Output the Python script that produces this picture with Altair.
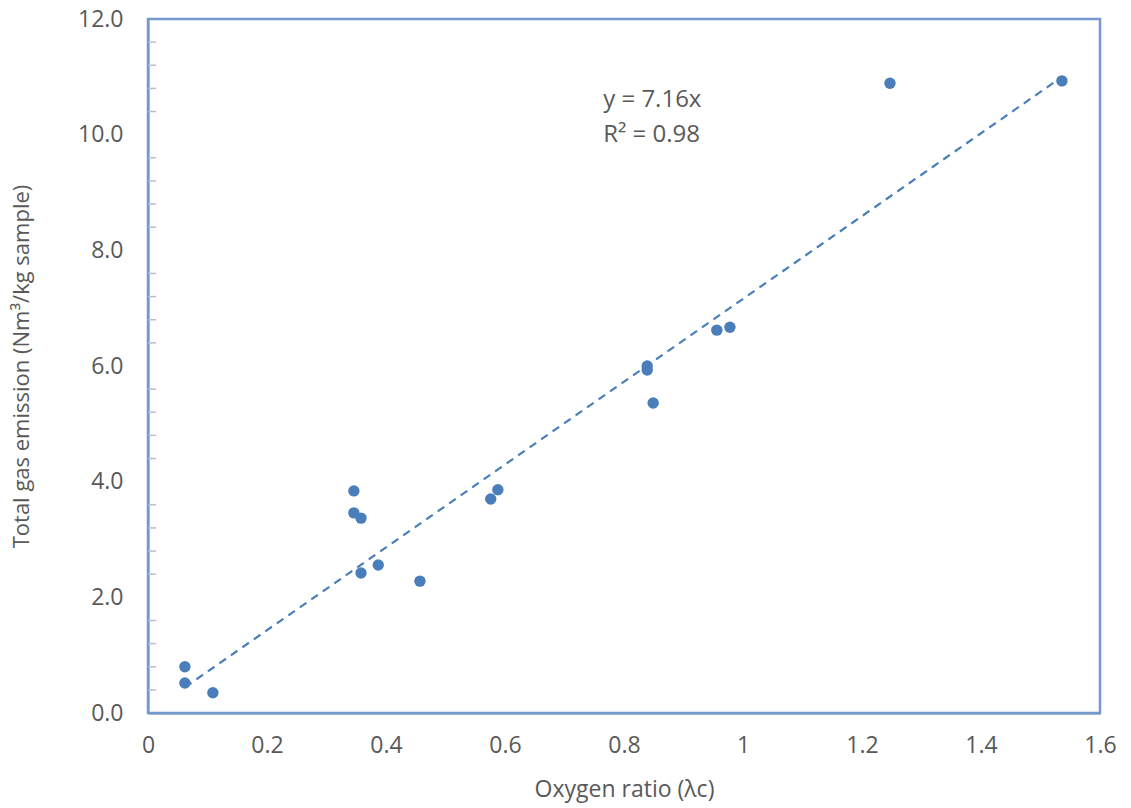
import altair as alt
import pandas as pd

x_vals = [0.062, 0.062, 0.109, 0.346, 0.346, 0.358, 0.358, 0.387, 0.457, 0.576, 0.588,
          0.839, 0.839, 0.849, 0.956, 0.978, 1.247, 1.536]
y_vals = [0.80, 0.52, 0.35, 3.84, 3.46, 3.37, 2.42, 2.56, 2.28, 3.70, 3.86,
          6.00, 5.93, 5.36, 6.62, 6.67, 10.89, 10.93]
slope = 7.16
trend_x = [0.062, 1.536]
eq_lines = ["y = 7.16x", "R² = 0.98"]

pts = pd.DataFrame({"x": x_vals, "y": y_vals})
trend = pd.DataFrame({"x": trend_x, "y": [slope * v for v in trend_x]})

FONT = "Open Sans"
GRAY = "#595959"
BLUE = "#4a7ebb"

xs = alt.Scale(domain=[0, 1.6], nice=False, zero=False)
ys = alt.Scale(domain=[0, 12], nice=False, zero=False)

xaxis = alt.Axis(values=[0, 0.2, 0.4, 0.6, 0.8, 1.0, 1.2, 1.4, 1.6], format="~f",
                 title="Oxygen ratio (λc)", grid=False, ticks=False, labelFlush=False,
                 domainColor="#b4bfcf", domainWidth=3,
                 labelFont=FONT, labelFontSize=23, labelColor=GRAY, labelPadding=21,
                 titleFont=FONT, titleFontSize=23, titleFontWeight="normal",
                 titleColor=GRAY, titlePadding=21)
yaxis = alt.Axis(values=[0, 2, 4, 6, 8, 10, 12], format=".1f",
                 title="Total gas emission (Nm³/kg sample)", grid=False, ticks=False,
                 labelFlush=False,
                 domainColor="#b4bfcf", domainWidth=3,
                 labelFont=FONT, labelFontSize=23, labelColor=GRAY, labelPadding=25,
                 titleFont=FONT, titleFontSize=22, titleFontWeight="normal",
                 titleColor=GRAY, titlePadding=44)

minor = pd.DataFrame({"y": [v * 0.4 for v in range(1, 30) if v % 5 != 0]})
minor_ticks = alt.Chart(minor).mark_rule(color="#b4bfcf", strokeWidth=1.5).encode(
    y=alt.Y("y:Q", scale=ys, axis=yaxis),
    x=alt.value(0), x2=alt.value(8))

points = alt.Chart(pts).mark_circle(size=130, color=BLUE, opacity=1).encode(
    x=alt.X("x:Q", scale=xs, axis=xaxis),
    y=alt.Y("y:Q", scale=ys, axis=yaxis))

line = alt.Chart(trend).mark_line(color=BLUE, strokeWidth=2.2, strokeDash=[8, 6]).encode(
    x=alt.X("x:Q", scale=xs), y=alt.Y("y:Q", scale=ys))

txt = pd.DataFrame({"x": [0.765, 0.765], "y": [10.6, 10.0], "t": eq_lines})
labels = alt.Chart(txt).mark_text(align="left", baseline="middle", font=FONT,
                                   fontSize=24, color=GRAY).encode(
    x=alt.X("x:Q", scale=xs), y=alt.Y("y:Q", scale=ys), text="t:N")

frame = alt.Chart(pd.DataFrame({"a": [0]})).mark_rect(
    fill=None, stroke="#7399cf", strokeWidth=2.5).encode(
    x=alt.value(0), x2=alt.value(952), y=alt.value(0), y2=alt.value(694))

chart = alt.layer(frame, minor_ticks, line, points, labels).properties(
    width=952, height=694,
    autosize=alt.AutoSizeParams(type="none"),
    padding={"left": 148, "top": 19, "right": 31, "bottom": 95},
).configure_view(stroke=None)

chart.save("out.html", embed_options={"renderer": "svg", "actions": False})
